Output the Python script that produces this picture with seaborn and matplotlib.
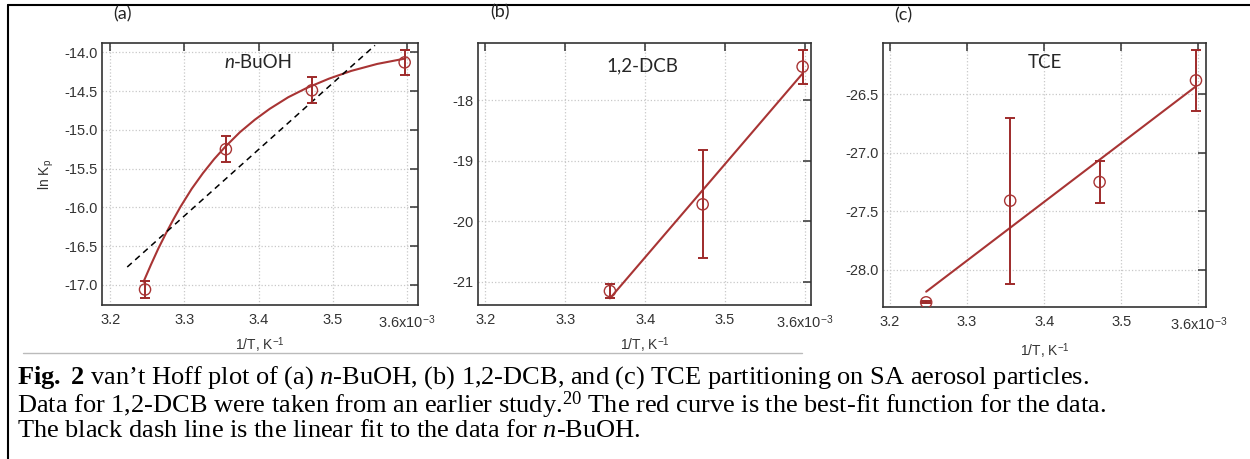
import matplotlib
matplotlib.use("Agg")
import matplotlib.pyplot as plt
from matplotlib.lines import Line2D
import seaborn as sns

# data (1/T in units of 1e-3 K^-1)
x_bu = [3.247, 3.356, 3.472, 3.597]
y_bu = [-17.06, -15.25, -14.49, -14.13]
e_bu = [0.11, 0.17, 0.17, 0.16]
# red best-fit curve for n-BuOH
fit_bu_x = [3.245, 3.255, 3.265, 3.275, 3.285, 3.295, 3.310, 3.325, 3.340, 3.355,
            3.375, 3.395, 3.415, 3.440, 3.465, 3.495, 3.525, 3.560, 3.598]
fit_bu_y = [-16.96, -16.74, -16.53, -16.34, -16.16, -15.99, -15.76, -15.56, -15.38, -15.22,
            -15.03, -14.87, -14.73, -14.58, -14.46, -14.34, -14.24, -14.15, -14.08]
# black dashed linear fit for n-BuOH (end points as drawn)
lin_bu_x = [3.223, 3.557]
lin_bu_y = [-16.77, -13.91]

x_dcb = [3.356, 3.472, 3.597]
y_dcb = [-21.15, -19.72, -17.45]
e_dcb = [0.12, 0.89, 0.28]

x_tce = [3.247, 3.356, 3.472, 3.597]
y_tce = [-28.28, -27.41, -27.25, -26.38]
e_tce = [0.01, 0.71, 0.18, 0.26]

xticks = [3.2, 3.3, 3.4, 3.5, 3.6]
xtick_labels = ['3.2', '3.3', '3.4', '3.5', r'3.6x10$^{\mathsf{-3}}$']

sns.set_style('white')
plt.rcParams['font.family'] = ['Liberation Sans', 'DejaVu Sans']
plt.rcParams['mathtext.fontset'] = 'custom'
plt.rcParams['mathtext.rm'] = 'Liberation Serif'
plt.rcParams['mathtext.it'] = 'Liberation Serif:italic'
plt.rcParams['mathtext.bf'] = 'Liberation Serif:bold'
plt.rcParams['mathtext.sf'] = 'Liberation Sans'

W, H = 1250, 459
fig = plt.figure(figsize=(12.5, 4.59), dpi=100)
fig.patch.set_facecolor('white')


def px(x, y):
    return x / W, 1 - y / H


red = '#a83434'
red_bar = '#9e2a2a'
grey = '#333333'


def make_axes(left, top, right, bottom):
    ax = fig.add_axes([left / W, 1 - bottom / H, (right - left) / W, (bottom - top) / H])
    return ax


def style(ax, xlim, ylim, yticks, ylabels):
    ax.set_xlim(*xlim)
    ax.set_ylim(*ylim)
    ax.set_xticks(xticks)
    ax.set_xticklabels(xtick_labels)
    ax.set_yticks(yticks)
    ax.set_yticklabels(ylabels)
    ax.grid(True, color='#c8c8c8', linestyle=':', linewidth=0.9)
    ax.tick_params(direction='in', length=6, width=1.1, top=True, right=True,
                   labelsize=10.5, labelcolor=grey, color=grey)
    ax.tick_params(axis='y', pad=3)
    ax.tick_params(axis='x', pad=6)
    for s in ax.spines.values():
        s.set_color(grey)
        s.set_linewidth(1.2)


def draw_points(ax, x, y, e):
    ax.errorbar(x, y, yerr=e, fmt='none', ecolor=red_bar, elinewidth=1.4,
                capsize=3.8, capthick=1.4, zorder=3)
    sns.scatterplot(x=x, y=y, ax=ax, marker='o', s=65, facecolor='none',
                    edgecolor=red, linewidth=1.0, zorder=4)


# (a) n-BuOH
ax1 = make_axes(102, 43, 418, 305)
sns.lineplot(x=fit_bu_x, y=fit_bu_y, ax=ax1, color=red, lw=1.5)
ax1.plot(lin_bu_x, lin_bu_y, color='black', linestyle=(0, (4, 3)), lw=1.1)
draw_points(ax1, x_bu, y_bu, e_bu)
style(ax1, (3.189, 3.615), (-17.26, -13.88),
      [-14.0, -14.5, -15.0, -15.5, -16.0, -16.5, -17.0],
      ['-14.0', '-14.5', '-15.0', '-15.5', '-16.0', '-16.5', '-17.0'])
ax1.set_xlabel(r'1/T, K$^{\mathsf{-1}}$', fontsize=10, color=grey, labelpad=3)
ax1.set_ylabel(r'ln K$_{\mathsf{p}}$', fontsize=10, color=grey, labelpad=6)

# (b) 1,2-DCB
ax2 = make_axes(478, 43, 811, 305)
sns.regplot(x=x_dcb, y=y_dcb, ax=ax2, ci=None, scatter=False,
            line_kws=dict(color=red, lw=1.5))
draw_points(ax2, x_dcb, y_dcb, e_dcb)
style(ax2, (3.191, 3.6075), (-21.38, -17.06),
      [-18, -19, -20, -21], ['-18', '-19', '-20', '-21'])
ax2.set_xlabel(r'1/T, K$^{\mathsf{-1}}$', fontsize=10, color=grey, labelpad=3)

# (c) TCE
ax3 = make_axes(883, 43, 1206, 307)
sns.regplot(x=x_tce, y=y_tce, ax=ax3, ci=None, scatter=False,
            line_kws=dict(color=red, lw=1.5))
draw_points(ax3, x_tce, y_tce, e_tce)
style(ax3, (3.191, 3.610), (-28.32, -26.06),
      [-26.5, -27.0, -27.5, -28.0], ['-26.5', '-27.0', '-27.5', '-28.0'])
ax3.set_xlabel(r'1/T, K$^{\mathsf{-1}}$', fontsize=10, color=grey, labelpad=6)

# panel letters and compound names
for lab, xx, yy in [('(a)', 122, 14), ('(b)', 500, 12), ('(c)', 903, 15)]:
    fig.text(*px(xx, yy), lab, family='Lato', fontsize=13, ha='center', va='center')
fig.text(*px(234, 63), 'n', family='Lato', style='italic', fontsize=13.5, ha='right', va='center')
fig.text(*px(234, 63), '-BuOH', family='Lato', fontsize=13.5, ha='left', va='center')
fig.text(*px(642, 66), '1,2-DCB', family='Lato', fontsize=13.5, ha='center', va='center')
fig.text(*px(1045, 63), 'TCE', family='Lato', fontsize=13.5, ha='center', va='center')

# frame and separator
fig.add_artist(Line2D([8 / W, 8 / W], [1 - 5 / H, 0], transform=fig.transFigure, color='black', lw=1.5))
fig.add_artist(Line2D([8 / W, 1], [1 - 5 / H, 1 - 5 / H], transform=fig.transFigure, color='black', lw=1.5))
fig.add_artist(Line2D([23 / W, 802 / W], [1 - 353 / H, 1 - 353 / H], transform=fig.transFigure,
                      color='#bbbbbb', lw=1.0))

# caption
cap = '\n'.join([
    r'$\mathbf{Fig.}$ $\mathbf{2}$ van’t Hoff plot of (a) $\mathit{n}$-BuOH, (b) 1,2-DCB, and (c) TCE partitioning on SA aerosol particles.',
    r'Data for 1,2-DCB were taken from an earlier study.$^{20}$ The red curve is the best-fit function for the data.',
    r'The black dash line is the linear fit to the data for $\mathit{n}$-BuOH.',
])
fig.text(*px(17, 403), cap, family='Liberation Serif', fontsize=19, linespacing=0.95,
         ha='left', va='center', color='black')

fig.savefig('out.png', dpi=100)
